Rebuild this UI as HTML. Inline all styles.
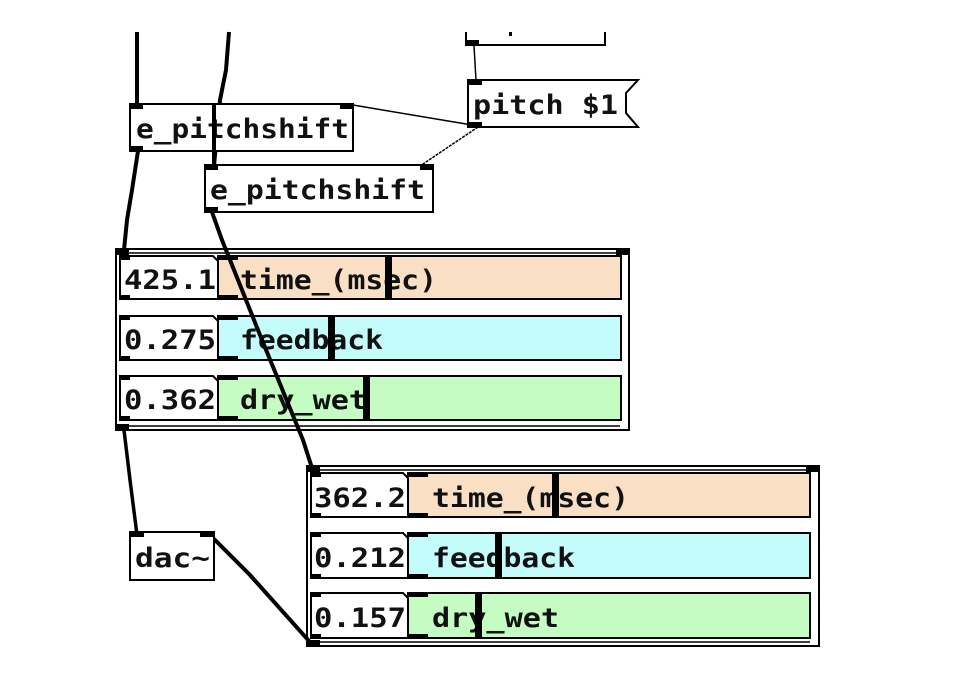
<!DOCTYPE html>
<html><head><meta charset="utf-8"><style>
html,body{margin:0;padding:0;background:#fff;width:980px;height:700px;overflow:hidden}
svg text{font-family:"DejaVu Sans Mono","Liberation Mono",monospace;font-weight:bold;font-size:27px;fill:#111}
</style></head><body>
<svg width="980" height="700" viewBox="0 0 980 700" xmlns="http://www.w3.org/2000/svg">
<!-- top partial box -->
<path d="M466 32 V45 H605 V32" fill="#fff" stroke="#000" stroke-width="2"/>
<rect x="466" y="40" width="13" height="5" fill="#000"/>
<rect x="509" y="32" width="3" height="4" fill="#000"/>
<!-- pitch $1 msg -->
<line x1="474" y1="46" x2="476" y2="80" stroke="#000" stroke-width="1.5"/>
<path d="M468 80 H638 L626 93 V113 L638 127 H468 Z" fill="#fff" stroke="#000" stroke-width="2"/>
<rect x="468" y="80" width="14" height="5" fill="#000"/>
<rect x="468" y="122" width="14" height="5" fill="#000"/>
<text x="473" y="114" textLength="145" lengthAdjust="spacingAndGlyphs">pitch $1</text>
<!-- control lines -->
<line x1="353" y1="105" x2="478" y2="126" stroke="#000" stroke-width="1.5"/>
<line x1="478" y1="127" x2="420" y2="166" stroke="#000" stroke-width="1.5" stroke-dasharray="3,1"/>
<!-- top signal cables -->
<line x1="137" y1="32" x2="137" y2="105" stroke="#000" stroke-width="4"/>
<polyline points="229,32 226,70 220,100 214,166" fill="none" stroke="#000" stroke-width="4"/>
<!-- e_pitchshift 1 -->
<rect x="130" y="104" width="223" height="47" fill="#fff" stroke="#000" stroke-width="2"/>
<rect x="130" y="104" width="13" height="5" fill="#000"/>
<rect x="340" y="104" width="13" height="5" fill="#000"/>
<rect x="130" y="146" width="13" height="5" fill="#000"/>
<text x="136" y="138" textLength="213" lengthAdjust="spacingAndGlyphs">e_pitchshift</text>
<line x1="214" y1="104" x2="214" y2="166" stroke="#000" stroke-width="4"/>
<!-- e_pitchshift 2 -->
<rect x="205" y="165" width="228" height="47" fill="#fff" stroke="#000" stroke-width="2"/>
<rect x="205" y="165" width="13" height="5" fill="#000"/>
<rect x="420" y="165" width="13" height="5" fill="#000"/>
<rect x="205" y="207" width="13" height="5" fill="#000"/>
<text x="210" y="199" textLength="215" lengthAdjust="spacingAndGlyphs">e_pitchshift</text>
<!-- cable ps1 -> gop1 -->
<polyline points="138,151 132,190 127,220 124,250" fill="none" stroke="#000" stroke-width="4"/>

<!-- GOP 1 -->
<rect x="116" y="249" width="513" height="181" fill="#fff" stroke="#000" stroke-width="2"/>
<line x1="125" y1="253" x2="620" y2="253" stroke="#000" stroke-width="1.5"/>
<line x1="125" y1="426" x2="620" y2="426" stroke="#000" stroke-width="1.5"/>
<rect x="116" y="249" width="13" height="6" fill="#000"/>
<rect x="616" y="249" width="13" height="6" fill="#000"/>
<rect x="116" y="424" width="13" height="6" fill="#000"/>
<g stroke="#000" stroke-width="2">
<rect x="218" y="256" width="403" height="43" fill="#f9dfc4"/>
<rect x="218" y="316" width="403" height="44" fill="#c4fcfc"/>
<rect x="218" y="376" width="403" height="44" fill="#c4fcc4"/>
<path d="M120 256 H213 L218 261 V299 H120 Z" fill="#fff"/>
<path d="M120 316 H213 L218 321 V360 H120 Z" fill="#fff"/>
<path d="M120 376 H213 L218 381 V420 H120 Z" fill="#fff"/>
</g>
<g fill="#000">
<rect x="120" y="256" width="10" height="4"/><rect x="120" y="295" width="10" height="4"/>
<rect x="120" y="316" width="10" height="4"/><rect x="120" y="356" width="10" height="4"/>
<rect x="120" y="376" width="10" height="4"/><rect x="120" y="416" width="10" height="4"/>
<rect x="218" y="256" width="20" height="4"/><rect x="218" y="295" width="20" height="4"/>
<rect x="218" y="316" width="20" height="4"/><rect x="218" y="356" width="20" height="4"/>
<rect x="218" y="376" width="20" height="4"/><rect x="218" y="416" width="20" height="4"/>
</g>
<text x="124" y="289" textLength="92" lengthAdjust="spacingAndGlyphs">425.1</text>
<text x="124" y="349" textLength="92" lengthAdjust="spacingAndGlyphs">0.275</text>
<text x="124" y="409" textLength="92" lengthAdjust="spacingAndGlyphs">0.362</text>
<text x="240" y="289" textLength="197" lengthAdjust="spacingAndGlyphs">time_(msec)</text>
<text x="240" y="349" textLength="143" lengthAdjust="spacingAndGlyphs">feedback</text>
<text x="240" y="409" textLength="127" lengthAdjust="spacingAndGlyphs">dry_wet</text>
<rect x="385" y="257" width="7" height="41" fill="#000"/>
<rect x="328" y="317" width="7" height="42" fill="#000"/>
<rect x="363" y="377" width="7" height="42" fill="#000"/>

<!-- GOP 2 -->
<rect x="307" y="466" width="512" height="180" fill="#fff" stroke="#000" stroke-width="2"/>
<line x1="316" y1="470" x2="810" y2="470" stroke="#000" stroke-width="1.5"/>
<line x1="316" y1="642" x2="810" y2="642" stroke="#000" stroke-width="1.5"/>
<rect x="307" y="466" width="13" height="6" fill="#000"/>
<rect x="806" y="466" width="13" height="6" fill="#000"/>
<rect x="307" y="640" width="13" height="6" fill="#000"/>
<g stroke="#000" stroke-width="2">
<rect x="408" y="473" width="402" height="44" fill="#f9dfc4"/>
<rect x="408" y="533" width="402" height="45" fill="#c4fcfc"/>
<rect x="408" y="593" width="402" height="45" fill="#c4fcc4"/>
<path d="M311 473 H403 L408 478 V517 H311 Z" fill="#fff"/>
<path d="M311 533 H403 L408 538 V578 H311 Z" fill="#fff"/>
<path d="M311 593 H403 L408 598 V638 H311 Z" fill="#fff"/>
</g>
<g fill="#000">
<rect x="311" y="473" width="10" height="4"/><rect x="311" y="513" width="10" height="4"/>
<rect x="311" y="533" width="10" height="4"/><rect x="311" y="574" width="10" height="4"/>
<rect x="311" y="593" width="10" height="4"/><rect x="311" y="634" width="10" height="4"/>
<rect x="408" y="473" width="20" height="4"/><rect x="408" y="513" width="20" height="4"/>
<rect x="408" y="533" width="20" height="4"/><rect x="408" y="574" width="20" height="4"/>
<rect x="408" y="593" width="20" height="4"/><rect x="408" y="634" width="20" height="4"/>
</g>
<text x="314" y="507" textLength="92" lengthAdjust="spacingAndGlyphs">362.2</text>
<text x="314" y="567" textLength="92" lengthAdjust="spacingAndGlyphs">0.212</text>
<text x="314" y="627" textLength="92" lengthAdjust="spacingAndGlyphs">0.157</text>
<text x="432" y="507" textLength="197" lengthAdjust="spacingAndGlyphs">time_(msec)</text>
<text x="432" y="567" textLength="143" lengthAdjust="spacingAndGlyphs">feedback</text>
<text x="432" y="627" textLength="127" lengthAdjust="spacingAndGlyphs">dry_wet</text>
<rect x="552" y="474" width="7" height="42" fill="#000"/>
<rect x="495" y="534" width="7" height="43" fill="#000"/>
<rect x="475" y="594" width="7" height="43" fill="#000"/>

<!-- cable ps2 -> gop2 (drawn over gop1) -->
<polyline points="212,212 222,240 262,340 303,440 312,468" fill="none" stroke="#000" stroke-width="4"/>

<!-- dac~ -->
<polyline points="124,430 130,480 137,535" fill="none" stroke="#000" stroke-width="3.5"/>
<polyline points="210,535 250,575 309,641" fill="none" stroke="#000" stroke-width="4"/>
<rect x="130" y="532" width="84" height="48" fill="#fff" stroke="#000" stroke-width="2"/>
<rect x="130" y="532" width="14" height="5" fill="#000"/>
<rect x="200" y="532" width="14" height="5" fill="#000"/>
<text x="135" y="567" textLength="75" lengthAdjust="spacingAndGlyphs">dac~</text>
</svg>
</body></html>
